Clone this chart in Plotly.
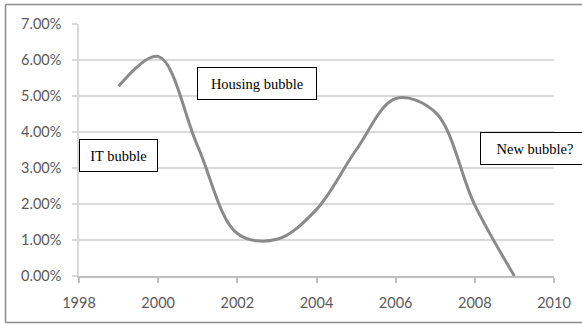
import plotly.graph_objects as go

years = [1999, 2000, 2001, 2002, 2003, 2004, 2005, 2006, 2007, 2008, 2009]
rates = [5.27, 6.10, 3.60, 1.18, 1.02, 1.85, 3.50, 4.93, 4.55, 1.97, 0.00]

labels = ["IT bubble", "Housing bubble", "New bubble?"]
label_x = [1999.0, 2002.49, 2009.52]
label_y = [3.35, 5.36, 3.54]
label_w = [77, 118, 108]

fig = go.Figure()
fig.add_trace(go.Scatter(
    x=years, y=rates, mode="lines",
    line=dict(color="#8a8a8a", width=3, shape="spline", smoothing=1.0),
    hoverinfo="skip", showlegend=False,
))

for t, x, y, w in zip(labels, label_x, label_y, label_w):
    fig.add_annotation(
        x=x, y=y, xref="x", yref="y", text=t, showarrow=False,
        font=dict(family="Liberation Serif", size=14.5, color="#000000"),
        bgcolor="#ffffff", bordercolor="#000000", borderwidth=1,
        borderpad=0, width=w, height=31, align="center",
        xanchor="center", yanchor="middle",
    )

# outer chart frame: top, left, bottom edges (right edge is outside the picture)
frame = dict(color="#8c8c8c", width=1.5)
fig.add_shape(type="line", xref="paper", yref="paper",
              x0=-0.1547, x1=1.06, y0=1.0774, y1=1.0774, line=frame, layer="below")
fig.add_shape(type="line", xref="paper", yref="paper",
              x0=-0.1547, x1=-0.1547, y0=-0.1845, y1=1.0774, line=frame, layer="below")
fig.add_shape(type="line", xref="paper", yref="paper",
              x0=-0.1547, x1=1.06, y0=-0.1845, y1=-0.1845, line=frame, layer="below")

fig.update_layout(
    width=582, height=324,
    margin=dict(l=79, r=28, t=24, b=48),
    paper_bgcolor="#ffffff", plot_bgcolor="#ffffff",
    xaxis=dict(
        range=[1998, 2010], dtick=2, tick0=1998,
        showgrid=False, zeroline=False,
        showline=True, linecolor="#bfbfbf", linewidth=1.5,
        ticks="outside", ticklen=5, tickcolor="#bfbfbf", tickwidth=1.5,
        tickfont=dict(family="Lato", size=14.5, color="#595959"),
        ticklabelstandoff=8,
    ),
    yaxis=dict(
        range=[0, 7], dtick=1, tick0=0,
        tickformat=".2f", ticksuffix="%",
        showgrid=True, gridcolor="#d9d9d9", gridwidth=1.5,
        zeroline=False,
        showline=True, linecolor="#d9d9d9", linewidth=1.5,
        ticks="outside", ticklen=5, tickcolor="#d9d9d9", tickwidth=1.5,
        tickfont=dict(family="Lato", size=14.5, color="#595959"),
        ticklabelstandoff=8,
    ),
)

fig.write_html("out.html")
